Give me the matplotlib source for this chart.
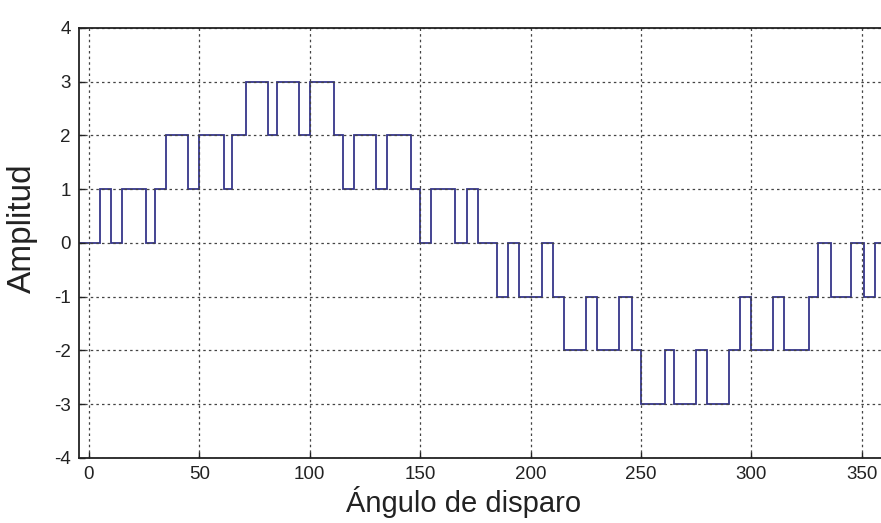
import matplotlib
matplotlib.use("Agg")
import matplotlib.pyplot as plt
import numpy as np

edges = [-5, 5, 10, 15, 26, 30, 35, 45, 50, 61, 65, 71, 81, 85, 95, 100, 111,
         115, 120, 130, 135, 146, 150, 155, 166, 171, 176, 185, 190, 195, 205,
         210, 215, 225, 230, 240, 246, 250, 261, 265, 275, 280, 290, 295, 300,
         310, 315, 326, 330, 336, 345, 351, 356, 365]
levels = [0, 1, 0, 1, 0, 1, 2, 1, 2, 1, 2, 3, 2, 3, 2, 3, 2, 1, 2, 1, 2, 1, 0,
          1, 0, 1, 0, -1, 0, -1, 0, -1, -2, -1, -2, -1, -2, -3, -2, -3, -2, -3,
          -2, -1, -2, -1, -2, -1, 0, -1, 0, -1, 0]

x_ticks = [0, 50, 100, 150, 200, 250, 300, 350]
y_ticks = [-4, -3, -2, -1, 0, 1, 2, 3, 4]

plt.rcParams['font.family'] = ['Liberation Sans', 'DejaVu Sans']
plt.rcParams['axes.unicode_minus'] = False

fig = plt.figure(figsize=(8.81, 5.23), dpi=100)
# axes run past the right edge, the reference is cropped there
ax = fig.add_axes([0.0897, 0.1243, 0.926, 0.8222])

ax.stairs(levels, edges, baseline=None, color='#36368a', linewidth=1.3)

ax.set_xticks(x_ticks)
ax.set_yticks(y_ticks)
ax.set_xlim(-4.5, 365)
ax.set_ylim(-4, 4)
ax.grid(True, color='#444444', linestyle=(0, (2, 2.5)), linewidth=0.9)
ax.tick_params(direction='in', length=4, width=1, labelsize=13.5,
               colors='#222222', pad=6)
for s in ax.spines.values():
    s.set_linewidth(1.3)
    s.set_color('#222222')

fig.text(464 / 881, 0.021, 'Ángulo de disparo', fontsize=21,
         ha='center', va='baseline', color='#222222')
fig.text(22 / 881, 0.564, 'Amplitud', fontsize=24, rotation=90,
         ha='center', va='center', color='#222222')

plt.savefig('out.png', dpi=100)
plt.close()
